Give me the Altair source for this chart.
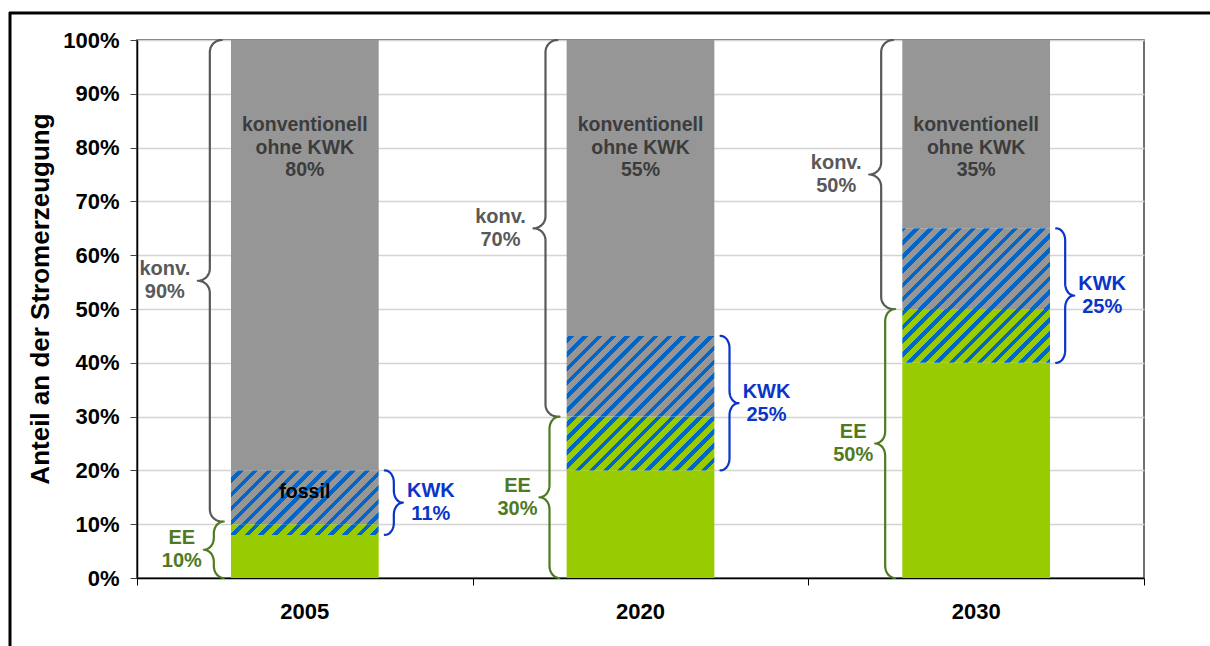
import altair as alt
import pandas as pd
import numpy as np

# ---------------- data ----------------
years = ["2005", "2020", "2030"]
ee_pure = [8, 20, 40]          # EE without KWK
ee_kwk = [2, 10, 10]           # EE with KWK (hatched green/blue)
fossil_kwk = [10, 15, 15]      # fossil KWK (hatched grey/blue)
konv_only = [80, 55, 35]       # conventional without KWK

inner_labels = ["konventionell\nohne KWK\n80%", "konventionell\nohne KWK\n55%", "konventionell\nohne KWK\n35%"]
konv_ranges = [(10.5, 100), (30, 100), (50, 100)]
konv_labels = ["konv.\n90%", "konv.\n70%", "konv.\n50%"]
ee_ranges = [(0, 10.5), (0, 30), (0, 50)]
ee_labels = ["EE\n10%", "EE\n30%", "EE\n50%"]
kwk_ranges = [(8, 20), (20, 45), (40, 65)]
kwk_labels = ["KWK\n11%", "KWK\n25%", "KWK\n25%"]
fossil_label = "fossil"
y_title = "Anteil an der Stromerzeugung"

# ---------------- styling ----------------
FONT = "Liberation Sans, Arial, sans-serif"
W, H = 1007, 538
UX = W / 3.0
UY = H / 100.0
BAR_HALF = 0.22
GREY = "#969696"
GREEN = "#99cc00"
BLUE = "#0066cc"
C_KONV = "#595959"
C_EE = "#4f7a21"
C_KWK = "#0a35c8"
P = 14.0
F = 0.42

xscale = alt.Scale(domain=[-0.5, 2.5], nice=False, zero=False)
yscale = alt.Scale(domain=[0, 100], nice=False)
xaxis = alt.Axis(values=[-0.5, 0.5, 1.5, 2.5], labels=False, ticks=True, tickSize=7,
                 tickColor="#000000", domainColor="#000000", domainWidth=1.5,
                 grid=False, title=None)
yaxis = alt.Axis(values=list(range(0, 101, 10)), labelExpr="datum.value + '%'",
                 labelFont=FONT, labelFontSize=22, labelFontWeight="bold", labelColor="#000000",
                 tickSize=7, tickColor="#404040", domainColor="#000000", domainWidth=1.5,
                 gridColor="#d4d4d4", gridWidth=1.5, labelPadding=11, title=None)


def X(f="x"):
    return alt.X(f"{f}:Q", scale=xscale, axis=xaxis)


def Y(f="y"):
    return alt.Y(f"{f}:Q", scale=yscale, axis=yaxis)


def hatch(i, lo, hi, base, stripe):
    w = 2 * BAR_HALF * UX
    h = (hi - lo) * UY
    X0 = (i + 0.5 - BAR_HALF) * UX
    Y0 = (100 - hi) * UY
    S0 = X0 + Y0
    L = w + h

    def col(s):
        return stripe if (s % P) < F * P else base

    bounds = []
    k = int(np.floor(S0 / P)) - 1
    while k * P < S0 + L + P:
        for b in (k * P, k * P + F * P):
            if S0 < b < S0 + L:
                bounds.append(b)
        k += 1
    bounds.sort()
    stops = [alt.GradientStop(color=col(S0 + 1e-6), offset=0)]
    for b in bounds:
        off = round((b - S0) / L, 5)
        stops.append(alt.GradientStop(color=col(b - 1e-6), offset=off))
        stops.append(alt.GradientStop(color=col(b + 1e-6), offset=off))
    stops.append(alt.GradientStop(color=col(S0 + L - 1e-6), offset=1))
    r = h / w
    s = (1 + r) / (1 + r * r)
    return alt.LinearGradient(gradient="linear", stops=stops, x1=0, y1=0, x2=s, y2=s * r)


def brace_pts(i, lo, hi, spine_px, tip_px, hook_px, r_px=12, n=10):
    ytop = (100 - hi) * UY
    ybot = (100 - lo) * UY
    ym = (ytop + ybot) / 2
    xs = (i + 0.5) * UX + spine_px
    e = hook_px - spine_px
    d = tip_px - spine_px
    r = min(r_px, (ybot - ytop) / 4)
    a = np.linspace(0, np.pi / 2, n)
    pts = []
    pts += [(xs + e - e * np.sin(t), ytop + r - r * np.cos(t)) for t in a]
    pts += [(xs + d - d * np.cos(t), ym - r + r * np.sin(t)) for t in a]
    pts += [(xs + d - d * np.sin(t), ym + r - r * np.cos(t)) for t in a]
    pts += [(xs + e - e * np.cos(t), ybot - r + r * np.sin(t)) for t in a]
    return [(Xp / UX - 0.5, 100 - Yp / UY) for Xp, Yp in pts]


layers = []

# solid segments
green_df = pd.DataFrame({"x": [i - BAR_HALF for i in range(3)], "x2": [i + BAR_HALF for i in range(3)],
                         "y": [0] * 3, "y2": ee_pure})
grey_df = pd.DataFrame({"x": [i - BAR_HALF for i in range(3)], "x2": [i + BAR_HALF for i in range(3)],
                        "y": [ee_pure[i] + ee_kwk[i] + fossil_kwk[i] for i in range(3)],
                        "y2": [ee_pure[i] + ee_kwk[i] + fossil_kwk[i] + konv_only[i] for i in range(3)]})
layers.append(alt.Chart(green_df).mark_rect(color=GREEN).encode(x=X(), x2="x2", y=Y(), y2="y2"))
layers.append(alt.Chart(grey_df).mark_rect(color=GREY).encode(x=X(), x2="x2", y=Y(), y2="y2"))

# hatched segments
for i in range(3):
    lo1, hi1 = ee_pure[i], ee_pure[i] + ee_kwk[i]
    lo2, hi2 = hi1, hi1 + fossil_kwk[i]
    for lo, hi, base in ((lo1, hi1, GREEN), (lo2, hi2, GREY)):
        df = pd.DataFrame({"x": [i - BAR_HALF], "x2": [i + BAR_HALF], "y": [lo], "y2": [hi]})
        layers.append(alt.Chart(df).mark_rect(fill=hatch(i, lo, hi, base, BLUE), opacity=1)
                      .encode(x=X(), x2="x2", y=Y(), y2="y2"))

# braces
brace_specs = [
    (konv_ranges, konv_labels, C_KONV, -95, -107, -83, -33),
    (ee_ranges, ee_labels, C_EE, -91, -101, -81, -22),
    (kwk_ranges, kwk_labels, C_KWK, 89, 98, 80, 28),
]
for ranges, labels, colr, sp, tp, hk, loff in brace_specs:
    rows = []
    lrows = []
    for i, (lo, hi) in enumerate(ranges):
        for j, (bx, by) in enumerate(brace_pts(i, lo, hi, sp, tp, hk)):
            rows.append({"id": i, "idx": j, "x": bx, "y": by})
        lrows.append({"x": i + (tp + loff) / UX, "y": (lo + hi) / 2, "t": labels[i]})
    layers.append(alt.Chart(pd.DataFrame(rows)).mark_line(color=colr, strokeWidth=2.2, strokeCap="round",
                                                          strokeJoin="round")
                  .encode(x=X(), y=Y(), detail="id:N", order="idx:Q"))
    layers.append(alt.Chart(pd.DataFrame(lrows)).mark_text(font=FONT, fontSize=20, fontWeight="bold",
                                                           color=colr, lineBreak="\n", lineHeight=23,
                                                           align="center", baseline="middle", dy=-11.5)
                  .encode(x=X(), y=Y(), text="t:N"))

# inner labels
inner_df = pd.DataFrame({"x": list(range(3)), "y": [80] * 3, "t": inner_labels})
layers.append(alt.Chart(inner_df).mark_text(font=FONT, fontSize=19.5, fontWeight="bold", color="#3c3c3c",
                                            lineBreak="\n", lineHeight=22.5, align="center", baseline="middle",
                                            dy=-22.5)
              .encode(x=X(), y=Y(), text="t:N"))
fossil_df = pd.DataFrame({"x": [0], "y": [16], "t": [fossil_label]})
layers.append(alt.Chart(fossil_df).mark_text(font=FONT, fontSize=19.5, fontWeight="bold", color="#000000",
                                             align="center", baseline="middle")
              .encode(x=X(), y=Y(), text="t:N"))

# year labels
year_df = pd.DataFrame({"x": list(range(3)), "t": years})
layers.append(alt.Chart(year_df).mark_text(font=FONT, fontSize=22, fontWeight="bold", color="#000000",
                                           align="center", baseline="middle")
              .encode(x=X(), y=alt.value(H + 34), text="t:N"))

# y title
one = pd.DataFrame({"a": [0]})
layers.append(alt.Chart(one).mark_text(font=FONT, fontSize=26, fontWeight="bold", color="#000000",
                                       angle=270, align="center", baseline="middle")
              .encode(x=alt.value(-96), y=alt.value(259), text=alt.value(y_title)))

# outer frame lines
layers.append(alt.Chart(one).mark_rule(color="#000000", strokeWidth=3)
              .encode(x=alt.value(-128), x2=alt.value(1080), y=alt.value(-27)))
layers.append(alt.Chart(one).mark_rule(color="#000000", strokeWidth=3)
              .encode(x=alt.value(-127), y=alt.value(-28), y2=alt.value(640)))

chart = alt.layer(*layers).properties(
    width=W, height=H,
    padding={"left": 137, "top": 40, "right": 66, "bottom": 68},
    autosize=alt.AutoSizeParams(type="none"),
    background="white",
).configure_view(stroke="#404040", strokeWidth=1.5)

chart.save("out.html", embed_options={"renderer": "svg", "actions": False})
